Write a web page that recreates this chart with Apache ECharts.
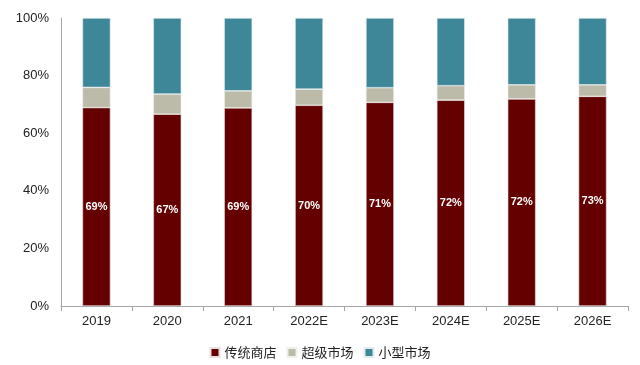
<!DOCTYPE html>
<html><head><meta charset="utf-8">
<script src="https://cdn.jsdelivr.net/npm/echarts@6/dist/echarts.min.js"></script>
<style>html,body{margin:0;padding:0;background:#fff}#c{width:640px;height:365px}</style>
</head><body><div id="c"></div>
<script>
var categories = ['2019','2020','2021','2022E','2023E','2024E','2025E','2026E'];
var traditional = [68.9, 66.6, 68.8, 69.7, 70.7, 71.5, 71.9, 72.8];
var supermarket = [7.0, 7.0, 5.9, 5.6, 5.1, 5.0, 4.9, 4.0];
var smallMarket = [24.1, 26.4, 25.3, 24.7, 24.2, 23.5, 23.2, 23.2];
var yTicks = ['0%','20%','40%','60%','80%','100%'];

var chart = echarts.init(document.getElementById('c'));
var font = 'Liberation Sans, Arial, sans-serif';
chart.setOption({
  animation: false,
  grid: {left: 61, right: 12, top: 18, bottom: 59},
  legend: {
    bottom: 1, left: 'center', itemWidth: 9, itemHeight: 9, itemGap: 10,
    icon: 'rect',
    textStyle: {fontSize: 13, color: '#222', fontFamily: 'Noto Sans CJK SC, sans-serif'},
    data: ['传统商店','超级市场','小型市场']
  },
  xAxis: {
    type: 'category', data: categories,
    axisLine: {lineStyle: {color: '#a6a6a6'}},
    axisTick: {show: true, alignWithLabel: false, length: 5, lineStyle: {color: '#a6a6a6'}},
    axisLabel: {fontSize: 13, color: '#222', fontFamily: font, margin: 9}
  },
  yAxis: {
    type: 'value', min: 0, max: 100, interval: 20,
    axisLine: {show: true, lineStyle: {color: '#a6a6a6'}},
    axisTick: {show: false},
    splitLine: {show: false},
    axisLabel: {fontSize: 13, color: '#222', fontFamily: font, margin: 12,
      formatter: function(v){ return yTicks[Math.round(v/20)]; }}
  },
  series: [
    {name: '传统商店', type: 'bar', stack: 's', barWidth: 28, data: traditional,
     itemStyle: {color: '#640000', borderColor: '#e8e0e0', borderWidth: 0.6},
     label: {show: true, position: 'inside', color: '#fff', fontSize: 11, fontWeight: 'bold',
       fontFamily: 'Liberation Sans Narrow, Arial Narrow, sans-serif',
       formatter: function(p){ return Math.round(p.value) + '%'; }}},
    {name: '超级市场', type: 'bar', stack: 's', barWidth: 28, data: supermarket,
     itemStyle: {color: '#bcbaa8', borderColor: '#f0f0ea', borderWidth: 0.6}},
    {name: '小型市场', type: 'bar', stack: 's', barWidth: 28, data: smallMarket,
     itemStyle: {color: '#3e8799', borderColor: '#e0ecef', borderWidth: 0.6}}
  ]
});
</script></body></html>
